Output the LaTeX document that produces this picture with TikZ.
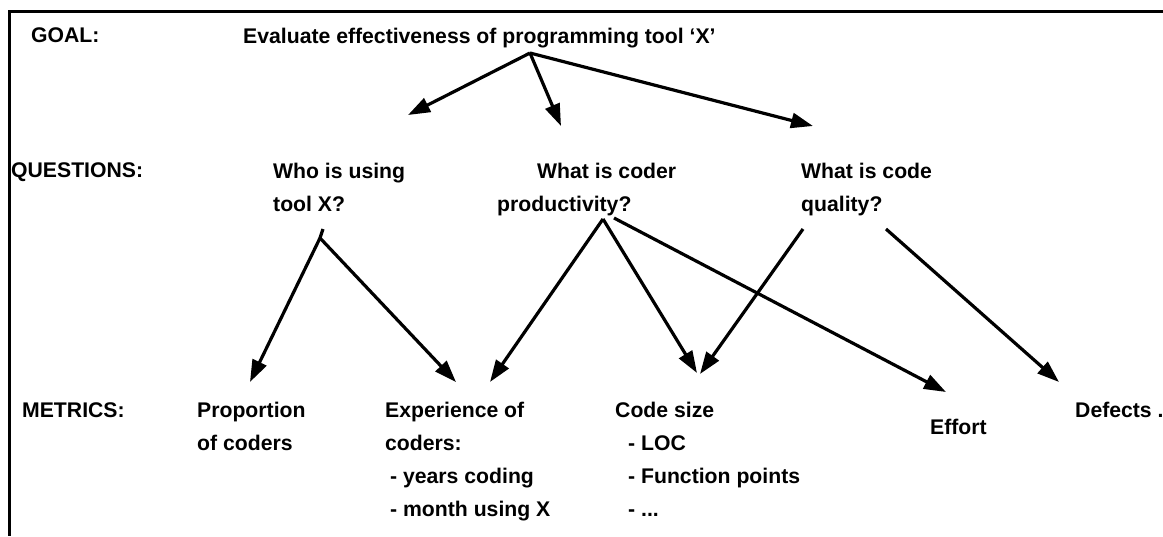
\documentclass[tikz,border=0pt]{standalone}
\usepackage{fontspec}
\setmainfont{Liberation Sans}
\usetikzlibrary{arrows.meta,positioning}
\tikzset{
  heading/.style={
    anchor=north west, inner sep=0pt, align=left,
    font=\fontsize{21.2}{33}\selectfont\bfseries
  },
  entry/.style={heading},
  flow/.style={-{Triangle[length=22pt,width=15pt]}, line width=3.2pt, draw=black},
  frame/.style={line width=3pt, draw=black}
}
\begin{document}
\begin{tikzpicture}[x=1pt,y=-1pt]
    \useasboundingbox (0,0) rectangle (1163,536);
    \draw[frame] (1163,11.3) -- (9.3,11.3) -- (9.3,536);
    % row labels
    \node[heading] (goallbl) at (31,27.5) {GOAL:};
    \node[heading] (questlbl) at (11,162.5) {QUESTIONS:};
    \node[heading] (metriclbl) at (22,402) {METRICS:};
    % goal and questions
    \node[entry] (goal) at (243,27.5) {Evaluate effectiveness of programming tool `X'};
    \node[entry] (who) at (273,162.5) {Who is using\\tool X?};
    \node[entry] (coder) at (497,162.5) {\hspace*{40pt}What is coder\\productivity?};
    \node[entry] (quality) at (801,162.5) {What is code\\quality?};
    % metrics
    \node[entry] (share) at (197,402) {Proportion\\of coders};
    \node[entry] (exper) at (385,402) {Experience of\\coders:\\\hspace*{5pt}- years coding\\\hspace*{5pt}- month using X};
    \node[entry] (size) at (615,402) {Code size\\\hspace*{13pt}- LOC\\\hspace*{13pt}- Function points\\\hspace*{13pt}- ...};
    \node[entry] (effort) at (930,418.5) {Effort};
    \node[entry] (defects) at (1075,402) {Defects .};
    % fork points and arrow ends
    \coordinate (goalfork) at (530,53);
    \coordinate (whoin) at (408,115);
    \coordinate (coderin) at (561,126);
    \coordinate (qualin) at (813,126);
    \coordinate (whostub) at (323,229);
    \coordinate (whofork) at (320,238);
    \coordinate (sharein) at (250,382);
    \coordinate (experin) at (456,382);
    \coordinate (coderfork) at (603,219);
    \coordinate (coderside) at (614,218);
    \coordinate (experin2) at (490,382);
    \coordinate (sizein) at (697,373);
    \coordinate (effortin) at (946,392);
    \coordinate (qualfork) at (803,229);
    \coordinate (qualside) at (886,229);
    \coordinate (sizein2) at (700,374);
    \coordinate (defectin) at (1059,382);
    \draw[flow] (goalfork) -- (whoin);
    \draw[flow] (goalfork) -- (coderin);
    \draw[flow] (goalfork) -- (qualin);
    \draw[line width=3.2pt] (whostub) -- (whofork);
    \draw[flow] (whofork) -- (sharein);
    \draw[flow] (whofork) -- (experin);
    \draw[flow] (coderfork) -- (experin2);
    \draw[flow] (coderfork) -- (sizein);
    \draw[flow] (coderside) -- (effortin);
    \draw[flow] (qualfork) -- (sizein2);
    \draw[flow] (qualside) -- (defectin);
  \end{tikzpicture}
\end{document}
